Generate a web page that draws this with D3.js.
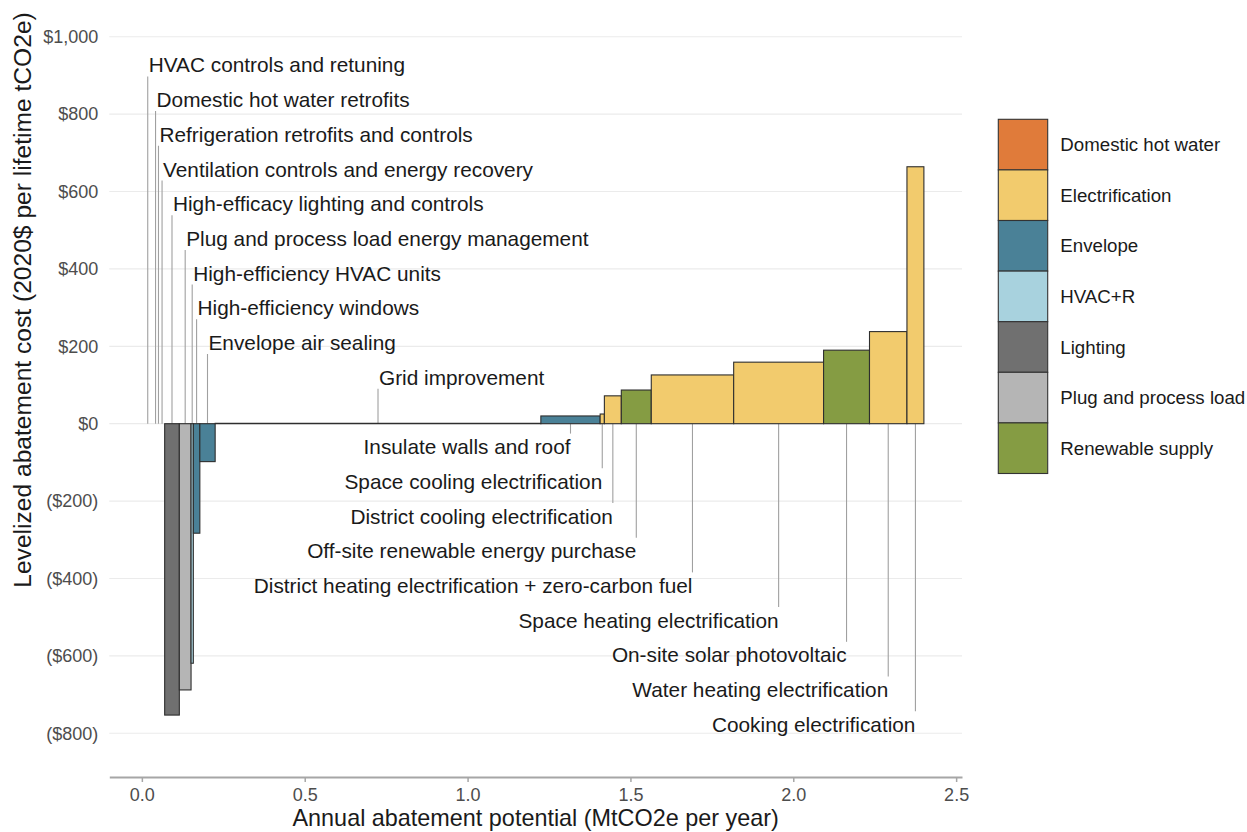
<!DOCTYPE html>
<html>
<head>
<meta charset="utf-8">
<script src="https://cdn.jsdelivr.net/npm/d3@7"></script>
<style>
  body { margin: 0; background: #fff; }
  svg text { font-family: "Liberation Sans", Arial, Helvetica, sans-serif; }
</style>
</head>
<body>
<div id="chart"></div>
<script>
// Measures, in order along the curve
var measures = [
  "HVAC controls and retuning",
  "Domestic hot water retrofits",
  "Refrigeration retrofits and controls",
  "Ventilation controls and energy recovery",
  "High-efficacy lighting and controls",
  "Plug and process load energy management",
  "High-efficiency HVAC units",
  "High-efficiency windows",
  "Envelope air sealing",
  "Grid improvement",
  "Insulate walls and roof",
  "Space cooling electrification",
  "District cooling electrification",
  "Off-site renewable energy purchase",
  "District heating electrification + zero-carbon fuel",
  "Space heating electrification",
  "On-site solar photovoltaic",
  "Water heating electrification",
  "Cooking electrification"
];
var measureCategory = [
  "HVAC+R", "Domestic hot water", "HVAC+R", "HVAC+R", "Lighting",
  "Plug and process load", "HVAC+R", "Envelope", "Envelope", "Renewable supply",
  "Envelope", "Electrification", "Electrification", "Renewable supply", "Electrification",
  "Electrification", "Renewable supply", "Electrification", "Electrification"
];
// annual abatement potential (MtCO2e per year) = bar width
var potential = [0.036, 0.012, 0.006, 0.016, 0.045, 0.036, 0.007, 0.020, 0.047, 1.000,
                 0.182, 0.013, 0.052, 0.092, 0.253, 0.276, 0.141, 0.115, 0.052];
// levelized abatement cost (2020$ per lifetime tCO2e) = bar height
var cost = [0, 0, 0, 0, -753, -688, -619, -283, -98, 1,
            20, 25, 72, 87, 126, 159, 190, 238, 664];

var categories = ["Domestic hot water", "Electrification", "Envelope", "HVAC+R",
                  "Lighting", "Plug and process load", "Renewable supply"];
var categoryColors = ["#E07B3A", "#F2CB6D", "#4A8197", "#A8D2DE", "#707070", "#B5B5B5", "#859C43"];

var xTicks = [0, 0.5, 1, 1.5, 2, 2.5];
var yTicks = [-800, -600, -400, -200, 0, 200, 400, 600, 800, 1000];

var width = 1247, height = 832;
var panel = { left: 109.3, right: 962, top: 19.7, bottom: 777 };

var svg = d3.select("#chart").append("svg")
    .attr("width", width)
    .attr("height", height);

var x = d3.scaleLinear().domain([-0.1, 2.518]).range([panel.left, panel.right]);
var y = d3.scaleLinear().domain([-913, 1044]).range([panel.bottom, panel.top]);
var color = d3.scaleOrdinal().domain(categories).range(categoryColors);

// cumulative edges
var ends = Array.from(d3.cumsum(potential));
var bars = measures.map(function(m, i) {
  return { name: m, cat: measureCategory[i], x0: ends[i] - potential[i], x1: ends[i], cost: cost[i], i: i };
});

// horizontal gridlines
svg.append("g").selectAll("line")
  .data(yTicks)
  .enter().append("line")
  .attr("x1", panel.left).attr("x2", panel.right)
  .attr("y1", function(d) { return y(d); })
  .attr("y2", function(d) { return y(d); })
  .attr("stroke", "#ebebeb")
  .attr("stroke-width", 1.2);

// y axis labels
function money(v) {
  var s = "$" + d3.format(",")(Math.abs(v));
  return v < 0 ? "(" + s + ")" : s;
}
var yAxis = svg.append("g")
  .attr("transform", "translate(" + (panel.left - 2) + ",0)")
  .call(d3.axisLeft(y).tickValues(yTicks).tickFormat(money).tickSize(0).tickPadding(9));
yAxis.select(".domain").remove();
yAxis.selectAll("text").attr("fill", "#4d4d4d").style("font-size", "18px");

// x axis with line
var xAxis = svg.append("g")
  .attr("transform", "translate(0," + panel.bottom + ")")
  .call(d3.axisBottom(x).tickValues(xTicks).tickFormat(d3.format(".1f")).tickSize(5).tickSizeOuter(0).tickPadding(6));
xAxis.select(".domain").attr("stroke", "#a6a6a6").attr("stroke-width", 2);
xAxis.selectAll(".tick line").attr("stroke", "#a6a6a6").attr("stroke-width", 1.5);
xAxis.selectAll("text").attr("fill", "#4d4d4d").style("font-size", "18px");

// leader lines and labels
var step = 34.7, firstBase = 72.4;
function labelBase(d) { return firstBase + (d.cost > 1 ? d.i + 1 : d.i) * step; }

svg.append("g").selectAll("line")
  .data(bars)
  .enter().append("line")
  .attr("x1", function(d) { return x((d.x0 + d.x1) / 2); })
  .attr("x2", function(d) { return x((d.x0 + d.x1) / 2); })
  .attr("y1", function(d) { return d.cost > 1 ? labelBase(d) - 20.5 : labelBase(d) + 4; })
  .attr("y2", y(0))
  .attr("stroke", "#a0a0a0")
  .attr("stroke-width", 1.1);

svg.append("g").selectAll("text")
  .data(bars)
  .enter().append("text")
  .attr("x", function(d) { return x((d.x0 + d.x1) / 2) + (d.cost > 1 ? 0 : 1); })
  .attr("y", labelBase)
  .attr("text-anchor", function(d) { return d.cost > 1 ? "end" : "start"; })
  .style("font-size", "20.8px")
  .attr("fill", "#1a1a1a")
  .text(function(d) { return d.name; });

// bars
svg.append("g").selectAll("rect")
  .data(bars)
  .enter().append("rect")
  .attr("x", function(d) { return x(d.x0); })
  .attr("width", function(d) { return x(d.x1) - x(d.x0); })
  .attr("y", function(d) { return y(Math.max(0, d.cost)); })
  .attr("height", function(d) { return Math.abs(y(d.cost) - y(0)); })
  .attr("fill", function(d) { return color(d.cat); })
  .attr("stroke", "#2e2e2e")
  .attr("stroke-width", 1.1);

// axis titles
svg.append("text")
  .attr("x", (panel.left + panel.right) / 2)
  .attr("y", 826)
  .attr("text-anchor", "middle")
  .style("font-size", "23.4px")
  .attr("fill", "#1a1a1a")
  .text("Annual abatement potential (MtCO2e per year)");

svg.append("text")
  .attr("transform", "translate(31,300) rotate(-90)")
  .attr("text-anchor", "middle")
  .style("font-size", "24.6px")
  .attr("fill", "#1a1a1a")
  .text("Levelized abatement cost (2020$ per lifetime tCO2e)");

// legend
var keyH = 50.6, keyW = 49.4;
var legend = svg.append("g").attr("transform", "translate(998.3,119.3)");
var items = legend.selectAll("g")
  .data(categories)
  .enter().append("g")
  .attr("transform", function(d, i) { return "translate(0," + i * keyH + ")"; });
items.append("rect")
  .attr("width", keyW).attr("height", keyH)
  .attr("fill", function(d) { return color(d); })
  .attr("stroke", "#333")
  .attr("stroke-width", 1.1);
items.append("text")
  .attr("x", 62)
  .attr("y", keyH / 2)
  .attr("dy", "0.35em")
  .style("font-size", "18.7px")
  .attr("fill", "#1a1a1a")
  .text(function(d) { return d; });
</script>
</body>
</html>
